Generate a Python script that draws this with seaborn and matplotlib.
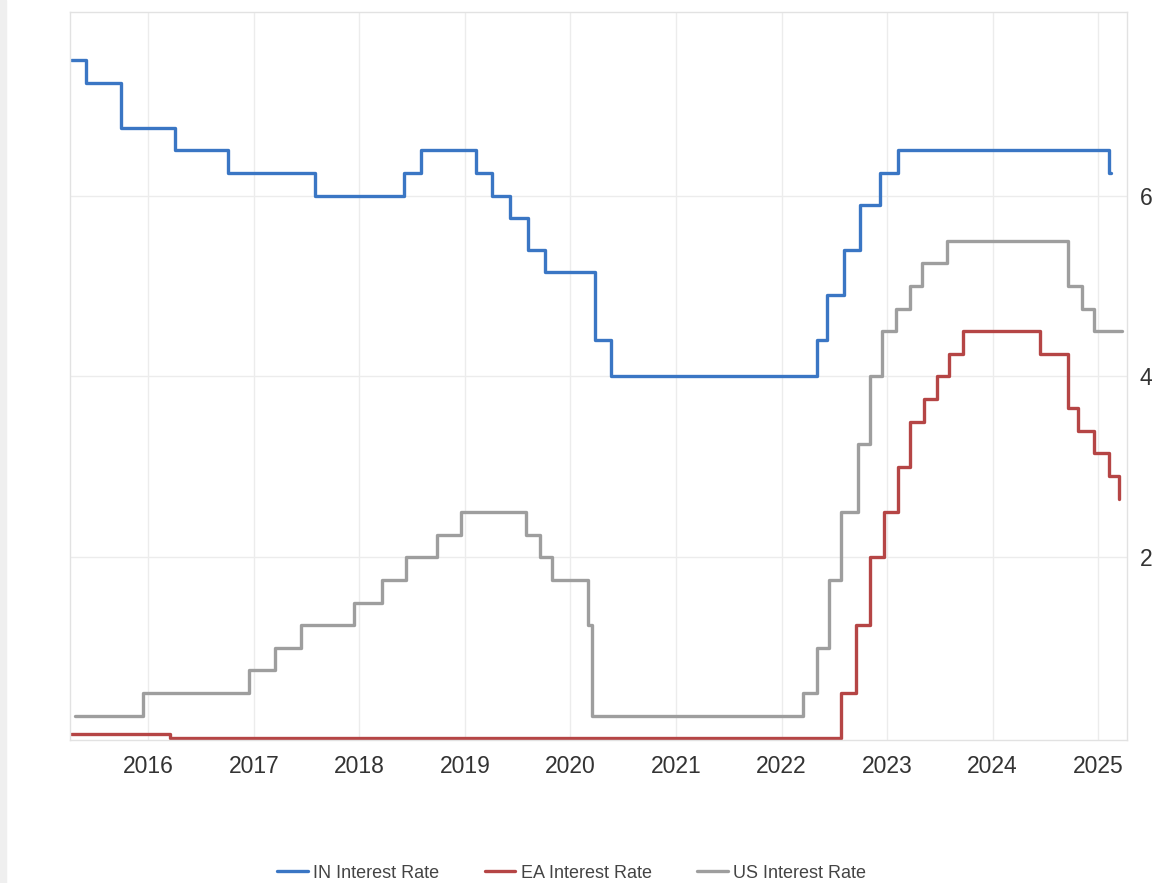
# Policy rates: India, Euro Area, US
import seaborn as sns
import matplotlib.pyplot as plt
import matplotlib.dates as mdates
from matplotlib.patches import Rectangle
import pandas as pd

# IN (RBI repo rate) change points
in_dates = ["2015-04-10", "2015-06-02", "2015-09-29", "2016-04-05", "2016-10-04",
            "2017-08-02", "2018-06-06", "2018-08-01", "2019-02-07", "2019-04-04",
            "2019-06-06", "2019-08-07", "2019-10-04", "2020-03-27", "2020-05-22",
            "2022-05-04", "2022-06-08", "2022-08-05", "2022-09-30", "2022-12-07",
            "2023-02-08", "2025-02-07", "2025-02-12"]
in_rates = [7.50, 7.25, 6.75, 6.50, 6.25, 6.00, 6.25, 6.50, 6.25, 6.00, 5.75, 5.40,
            5.15, 4.40, 4.00, 4.40, 4.90, 5.40, 5.90, 6.25, 6.50, 6.25, 6.25]

# EA (ECB main refinancing rate)
ea_dates = ["2015-04-10", "2016-03-16", "2022-07-27", "2022-09-14", "2022-11-02",
            "2022-12-21", "2023-02-08", "2023-03-22", "2023-05-10", "2023-06-21",
            "2023-08-02", "2023-09-20", "2024-06-12", "2024-09-18", "2024-10-23",
            "2024-12-18", "2025-02-05", "2025-03-12"]
ea_rates = [0.05, 0.00, 0.50, 1.25, 2.00, 2.50, 3.00, 3.50, 3.75, 4.00, 4.25, 4.50,
            4.25, 3.65, 3.40, 3.15, 2.90, 2.65]

# US (fed funds upper bound)
us_dates = ["2015-04-25", "2015-12-16", "2016-12-14", "2017-03-15", "2017-06-14",
            "2017-12-13", "2018-03-21", "2018-06-13", "2018-09-26", "2018-12-19",
            "2019-07-31", "2019-09-18", "2019-10-30", "2020-03-03", "2020-03-15",
            "2022-03-16", "2022-05-04", "2022-06-15", "2022-07-27", "2022-09-21",
            "2022-11-02", "2022-12-14", "2023-02-01", "2023-03-22", "2023-05-03",
            "2023-07-26", "2024-09-18", "2024-11-07", "2024-12-18", "2025-03-24"]
us_rates = [0.25, 0.50, 0.75, 1.00, 1.25, 1.50, 1.75, 2.00, 2.25, 2.50, 2.25, 2.00,
            1.75, 1.25, 0.25, 0.50, 1.00, 1.75, 2.50, 3.25, 4.00, 4.50, 4.75, 5.00,
            5.25, 5.50, 5.00, 4.75, 4.50, 4.50]

series_names = ["IN Interest Rate", "EA Interest Rate", "US Interest Rate"]
colors = ["#3a76c4", "#b54545", "#9e9e9e"]
y_ticks = [2, 4, 6]

frames = []
for name, d, r in zip(series_names, [in_dates, ea_dates, us_dates],
                      [in_rates, ea_rates, us_rates]):
    frames.append(pd.DataFrame({"date": pd.to_datetime(d), "rate": r, "series": name}))
df = pd.concat(frames, ignore_index=True)

sns.set_theme(style="white")
plt.rcParams["font.family"] = ["Liberation Sans", "DejaVu Sans"]

fig = plt.figure(figsize=(11.55, 8.83), dpi=100)
ax = fig.add_axes([70 / 1155, 1 - 740 / 883, (1127 - 70) / 1155, (740 - 12) / 883])

sns.lineplot(data=df, x="date", y="rate", hue="series", hue_order=series_names,
             palette=colors, estimator=None, drawstyle="steps-post",
             linewidth=2.4, solid_joinstyle="round", ax=ax)

ax.set_xlim(pd.Timestamp("2015-04-06"), pd.Timestamp("2025-04-10"))
ax.set_ylim(-0.02, 8.03)
ax.xaxis.set_major_locator(mdates.YearLocator())
ax.xaxis.set_major_formatter(mdates.DateFormatter("%Y"))
ax.yaxis.tick_right()
ax.set_yticks(y_ticks)
ax.set_xlabel("")
ax.set_ylabel("")
ax.tick_params(axis="x", length=0, pad=11, labelsize=16.5, labelcolor="#333333")
ax.tick_params(axis="y", length=0, pad=9, labelsize=16.5, labelcolor="#333333")
ax.grid(True, color="#ececec", linewidth=1)
for sp in ax.spines.values():
    sp.set_color("#e2e2e2")
    sp.set_linewidth(1)

handles, labels = ax.get_legend_handles_labels()
ax.get_legend().remove()
fig.legend(handles, labels, loc="center", bbox_to_anchor=(0.495, 1 - 873 / 883),
           ncol=3, frameon=False, fontsize=13, handlelength=1.7,
           handletextpad=0.3, columnspacing=2.5, labelcolor="#444444")

fig.patches.append(Rectangle((0, 0), 6 / 1155, 1, transform=fig.transFigure,
                             color="#efefef", zorder=0))

fig.savefig("out.png", dpi=100)
